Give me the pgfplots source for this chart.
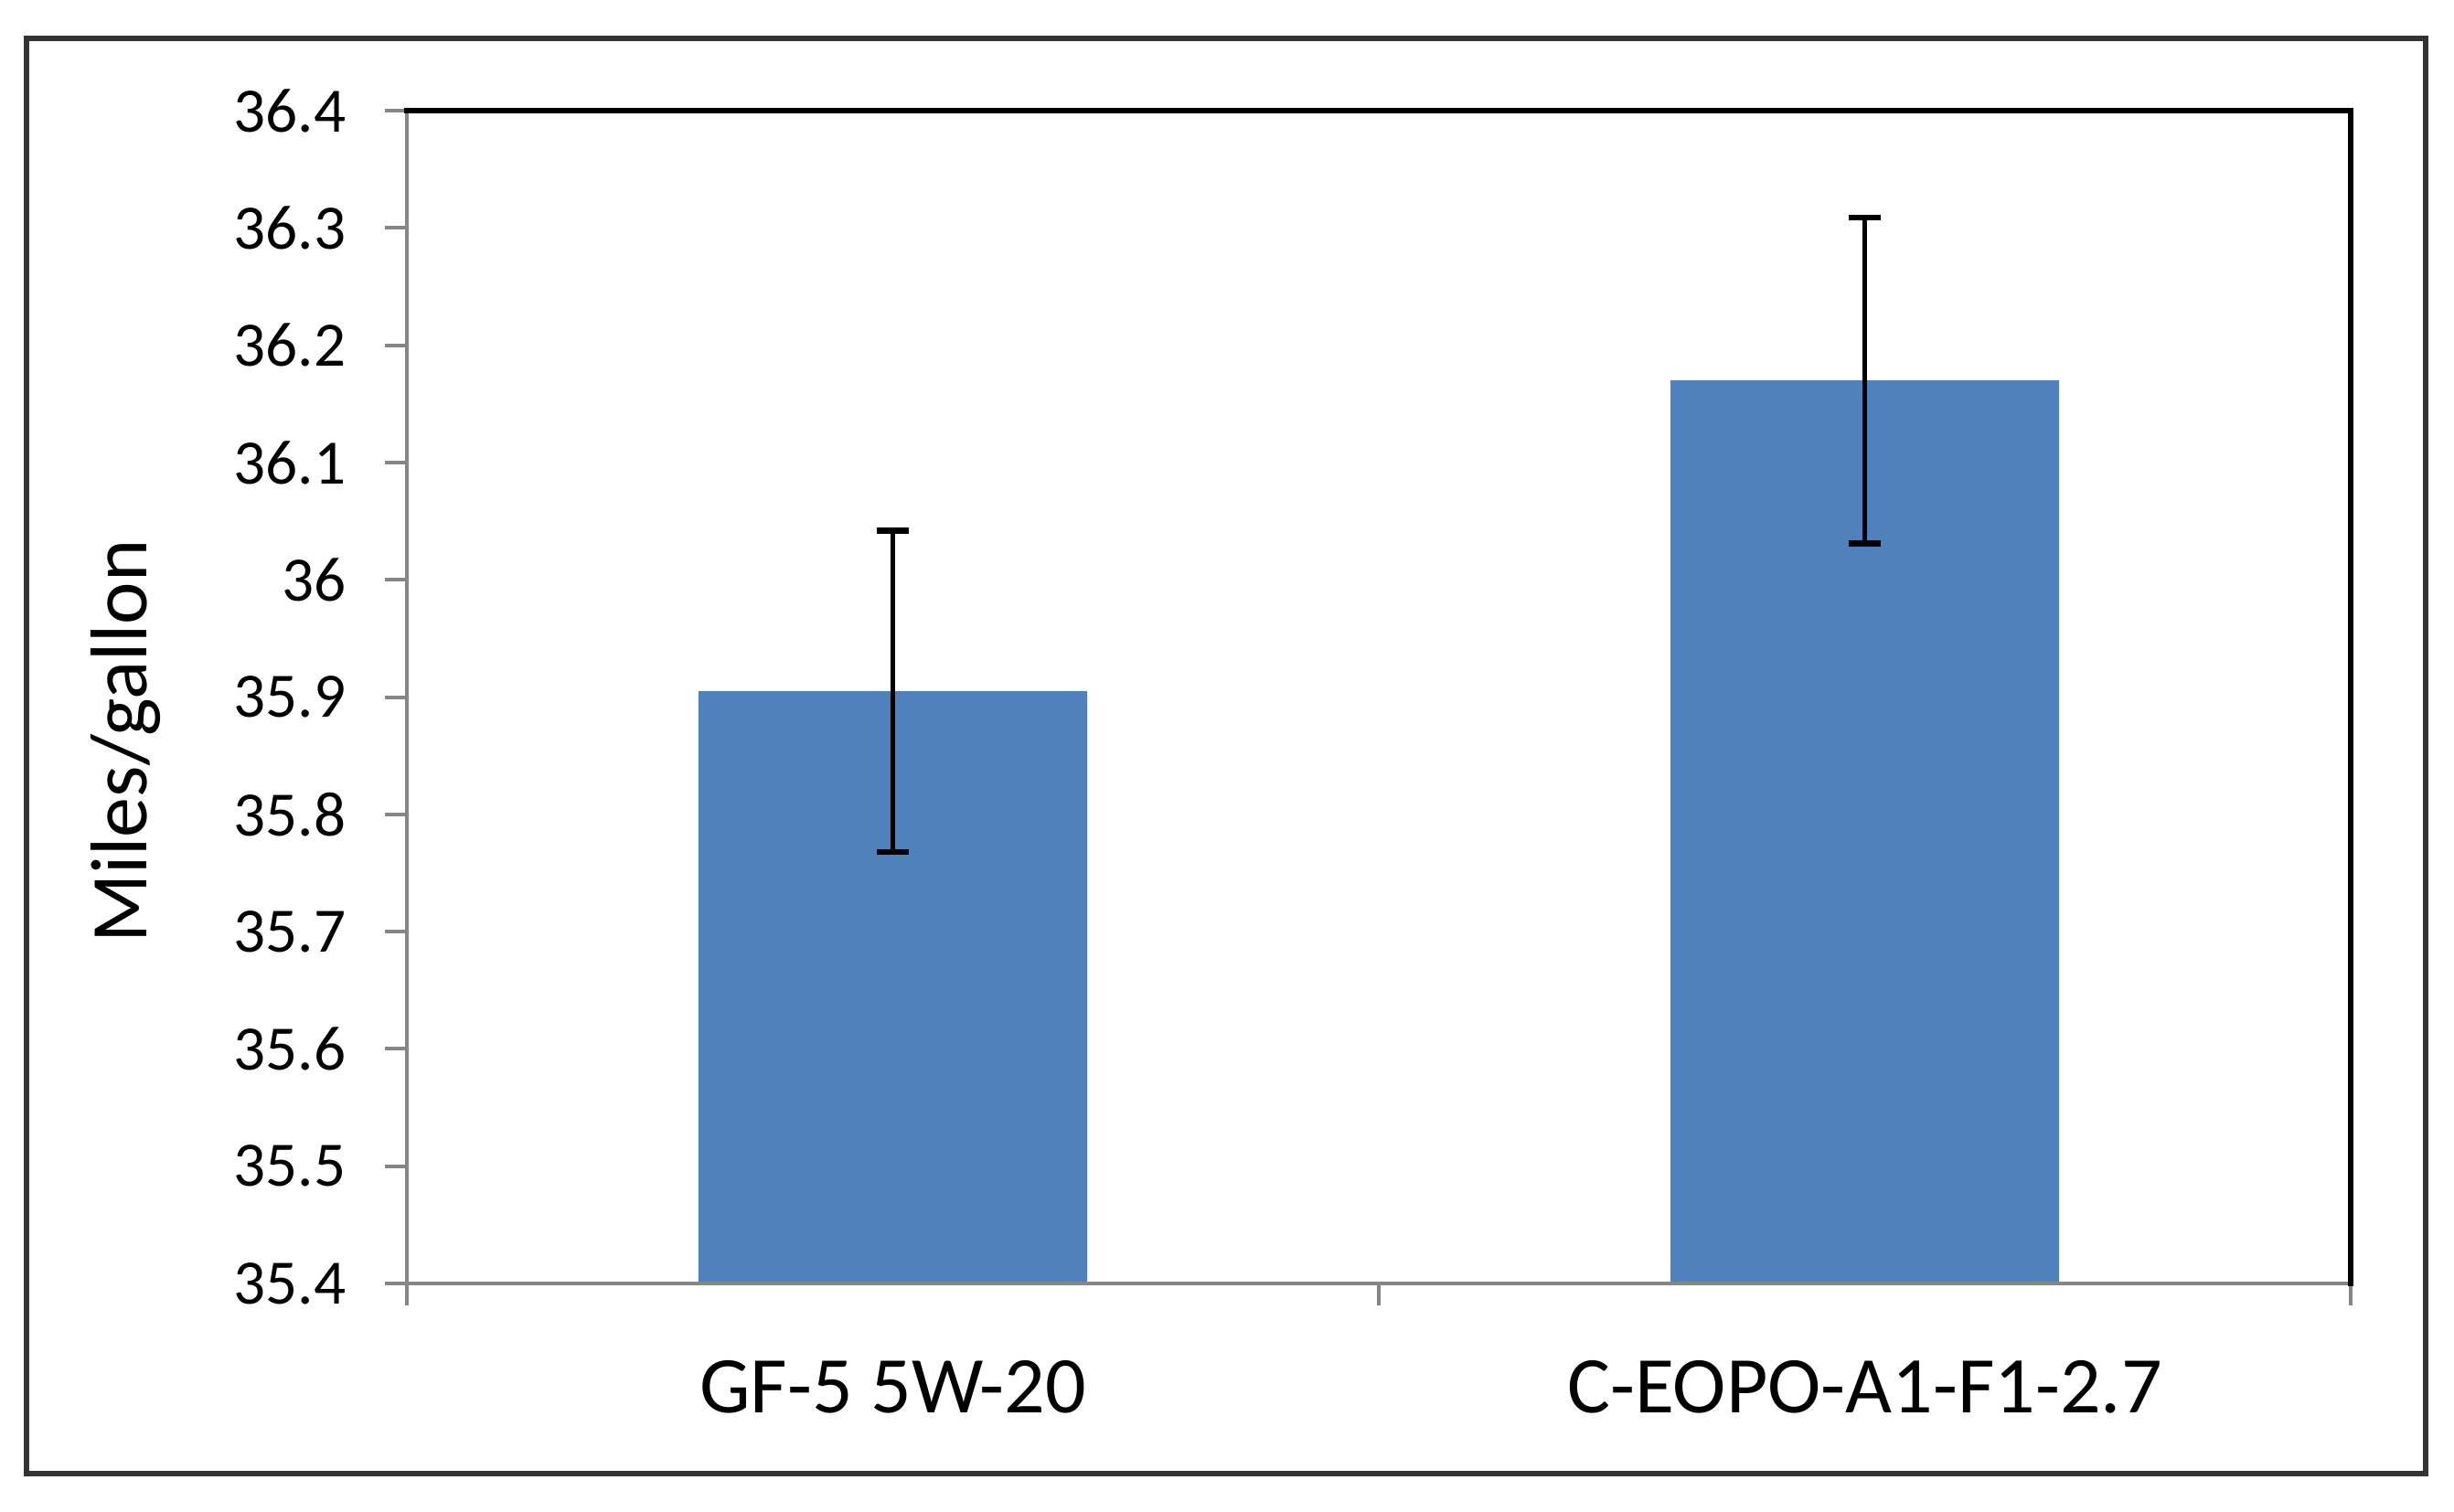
\documentclass[border=0pt]{standalone}
\usepackage{fontspec}
\setmainfont{Carlito}
\usepackage{pgfplots}
\pgfplotsset{compat=1.18}
\definecolor{barblue}{HTML}{4F81BD}
\definecolor{axgray}{HTML}{868686}
\begin{document}
\begin{tikzpicture}
\begin{axis}[
  name=ax,
  scale only axis,
  width=531.5pt, height=320.75pt,
  xmin=0.5, xmax=2.5,
  ymin=35.4, ymax=36.4,
  ytick={35.4,35.5,...,36.4},
  yticklabels={35.4,35.5,35.6,35.7,35.8,35.9,36,36.1,36.2,36.3,36.4},
  xtick={0.5,1.5,2.5},
  xticklabels={,,},
  extra x ticks={1,2},
  extra x tick labels={GF-5 5W-20,C-EOPO-A1-F1-2.7},
  extra x tick style={major tick length=0pt, xticklabel style={anchor=base, yshift=-35.4pt, font=\fontsize{22}{26}\selectfont}},
  tick align=outside,
  major tick length=6pt,
  tick style={axgray, line width=1pt},
  axis x line*=bottom,
  axis y line*=left,
  axis line style={axgray, line width=1pt, -},
  axis on top,
  /pgf/number format/assume math mode=true,
  yticklabel style={anchor=east, inner sep=0pt, xshift=-10.5pt, font=\fontsize{17.3}{20}\selectfont},
  ylabel={Miles/gallon},
  ylabel style={at={(axis description cs:-0.1444,0.4622)}, rotate=0, anchor=center, font=\fontsize{22}{26}\selectfont},
]
\addplot[ybar, bar width=106.25pt, fill=barblue, draw=none,
  error bars/.cd, y dir=both, y explicit,
  error bar style={black, line width=1.2pt},
  error mark options={rotate=90, mark size=4.4pt, line width=1.6pt, black}]
  coordinates {(1,35.905) +- (0,0.137) (2,36.17) +- (0,0.139)};
\end{axis}
\draw[black, line width=1.3pt, line cap=rect] (ax.north west) -- (ax.north east) -- (ax.south east);
\draw[black!80, line width=1.3pt] ([xshift=-104pt,yshift=-52pt]ax.south west) rectangle ([xshift=552pt,yshift=340.5pt]ax.south west);
\path[use as bounding box] ([xshift=-111.25pt,yshift=-62.25pt]ax.south west) rectangle ([xshift=559.75pt,yshift=351pt]ax.south west);
\end{tikzpicture}
\end{document}
